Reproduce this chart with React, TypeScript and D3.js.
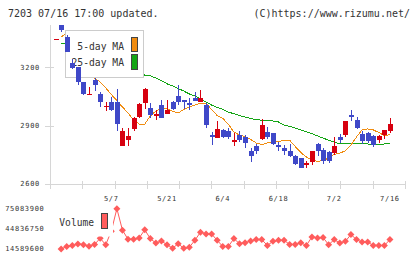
import React from "react";
import * as d3 from "d3";

// Trading days (2025) shown on the chart
const dates = [
  "4/18", "4/21", "4/22", "4/23", "4/24", "4/25", "4/28", "4/30", "5/1", "5/2",
  "5/7", "5/8", "5/9", "5/12", "5/13", "5/14", "5/15", "5/16", "5/19", "5/20",
  "5/21", "5/22", "5/23", "5/26", "5/27", "5/28", "5/29", "5/30", "6/2", "6/3",
  "6/4", "6/5", "6/6", "6/9", "6/10", "6/11", "6/12", "6/13", "6/16", "6/17",
  "6/18", "6/19", "6/20", "6/23", "6/24", "6/25", "6/26", "6/27", "6/30", "7/1",
  "7/2", "7/3", "7/4", "7/7", "7/8", "7/9", "7/10", "7/11", "7/14", "7/15",
  "7/16",
];

const opens = [
  3347, 3419, 3358, 3222, 3199, 3124, 3062, 3135, 3065, 2997,
  3022, 3022, 2795, 2824, 2883, 2943, 3016, 2991, 2951, 3005,
  2960, 3022, 3051, 3033, 3016, 3042, 3022, 3005, 2853, 2836,
  2879, 2874, 2814, 2853, 2840, 2771, 2797, 2833, 2867, 2862,
  2802, 2785, 2771, 2745, 2734, 2699, 2712, 2806, 2773, 2765,
  2759, 2842, 2853, 2953, 2931, 2857, 2862, 2848, 2828, 2853,
  2874,
];
const highs = [
  3347, 3420, 3366, 3243, 3201, 3124, 3101, 3147, 3075, 3024,
  3046, 3088, 2888, 2886, 2943, 3016, 3091, 3016, 2979, 3033,
  3033, 3028, 3110, 3033, 3042, 3073, 3085, 3016, 2866, 2922,
  2883, 2888, 2862, 2874, 2850, 2785, 2806, 2936, 2891, 2862,
  2816, 2799, 2806, 2751, 2736, 2720, 2770, 2811, 2785, 2771,
  2842, 2857, 2925, 2982, 2944, 2871, 2867, 2853, 2853, 2879,
  2939,
];
const lows = [
  3347, 3381, 3280, 3191, 3109, 3055, 3055, 3080, 2998, 2973,
  2975, 2874, 2795, 2795, 2874, 2939, 2987, 2939, 2931, 2938,
  2960, 2982, 3005, 2987, 2982, 3025, 3022, 2888, 2802, 2836,
  2836, 2833, 2794, 2816, 2785, 2713, 2754, 2828, 2833, 2802,
  2771, 2748, 2737, 2699, 2682, 2682, 2696, 2742, 2704, 2708,
  2748, 2811, 2840, 2925, 2883, 2807, 2811, 2790, 2811, 2833,
  2862,
];
const closes = [
  3347, 3393, 3281, 3194, 3122, 3063, 3065, 3109, 3024, 3000,
  2978, 2911, 2874, 2847, 2938, 3011, 3088, 2953, 2961, 2939,
  2982, 2987, 3022, 3022, 3005, 3028, 3042, 2905, 2843, 2883,
  2840, 2843, 2825, 2828, 2811, 2745, 2771, 2905, 2842, 2806,
  2790, 2771, 2742, 2704, 2682, 2706, 2768, 2771, 2720, 2720,
  2797, 2828, 2925, 2943, 2888, 2820, 2820, 2802, 2845, 2879,
  2908,
];

const volumes: (number | null)[] = [
  null, 14589600, 18420000, 19950000, 21940000, 21020000, 18880000, 21480000, 30670000, 21020000,
  41390000, 75083900, 42920000, 29140000, 29310000, 31130000, 43380000, 30210000, 23470000, 26540000,
  21020000, 15810000, 22550000, 15650000, 17350000, 27610000, 39860000, 37260000, 37100000, 27610000,
  18420000, 18420000, 30210000, 22550000, 24080000, 26540000, 28680000, 28680000, 19950000, 26080000,
  27610000, 27610000, 21480000, 21480000, 24080000, 19950000, 32660000, 31130000, 31740000, 21020000,
  28680000, 23470000, 26080000, 36340000, 28680000, 25000000, 25000000, 19950000, 19950000, 19950000,
  28680000,
];

const ma5: (number | null)[] = [
  null, 3356, 3376, 3345, 3300, 3267, 3211, 3145, 3124, 3094,
  3060, 3029, 2996, 2965, 2929, 2908, 2908, 2950, 2975, 2988,
  2988, 2973, 2965, 2983, 2996, 3006, 3016, 3016, 2982, 2952,
  2937, 2908, 2867, 2852, 2844, 2829, 2811, 2803, 2811, 2816,
  2818, 2824, 2825, 2793, 2762, 2739, 2723, 2717, 2720, 2734,
  2752, 2759, 2770, 2800, 2842, 2878, 2883, 2878, 2865, 2849,
  2853,
];
const ma25: (number | null)[] = [
  null, 3325, 3318, 3310, 3301, 3290, 3280, 3268, 3257, 3244,
  3232, 3220, 3205, 3192, 3180, 3170, 3160, 3156, 3145, 3132,
  3115, 3104, 3091, 3078, 3063, 3052, 3037, 3022, 3006, 2993,
  2984, 2969, 2962, 2952, 2944, 2937, 2931, 2928, 2927, 2924,
  2919, 2903, 2896, 2888, 2878, 2869, 2859, 2847, 2836, 2825,
  2816, 2806, 2806, 2806, 2806, 2806, 2806, 2802, 2802, 2806,
  2806,
];

const priceTicks = [2600, 2900, 3200];
const dateLabels = ["5/7", "5/21", "6/4", "6/18", "7/2", "7/16"];
const gridCount = 11;

const headerText = "7203 07/16 17:00 updated.";
const creditText = "(C)https://www.rizumu.net/";

const UP = "#d7000f";
const DOWN = "#3f48c8";
const MA5_COLOR = "#f08c10";
const MA25_COLOR = "#14a514";
const VOL_COLOR = "#ff5c5c";
const AXIS = "#d6d6d6";
const TEXT = "#333333";
const MONO = "'DejaVu Sans Mono', monospace";

export default function App() {
  const W = 420;
  const H = 259;

  const x = d3.scaleLinear().domain([-1, 62.7]).range([50, 405]);
  const y = d3.scaleLinear().domain([2600, 3420]).range([184, 24.5]);
  const grid = d3.scaleLinear().domain([0, gridCount]).range([50, 405]);

  const volVals = volumes.filter((v): v is number => v != null);
  const vMin = d3.min(volVals) as number;
  const vMax = d3.max(volVals) as number;
  const yv = d3.scaleLinear().domain([vMin, vMax]).range([249, 208.7]);
  const volTicks = [vMax, (vMin + vMax) / 2, vMin];

  const maLine = d3
    .line<number | null>()
    .defined((d) => d != null)
    .x((_, i) => x(i))
    .y((d) => y(d as number));

  const volLine = d3
    .line<number | null>()
    .defined((d) => d != null)
    .x((_, i) => x(i))
    .y((d) => yv(d as number));

  const bodyW = 5;

  return (
    <svg
      width={W}
      height={H}
      viewBox={`0 0 ${W} ${H}`}
      style={{ position: "absolute", left: 0, top: 0, background: "#fff" }}
    >
      <rect x={0} y={0} width={W} height={H} fill="#fff" />

      {/* header */}
      <text x={8} y={16.5} fontFamily={MONO} fontSize={10} fill={TEXT}>
        {headerText}
      </text>
      <text x={410} y={16.5} fontFamily={MONO} fontSize={10} fill={TEXT} textAnchor="end">
        {creditText}
      </text>

      {/* price axes */}
      <g shapeRendering="crispEdges" stroke={AXIS} strokeWidth={1}>
        <line x1={50.5} x2={50.5} y1={y(3420)} y2={188.5} />
        <line x1={50} x2={405} y1={Math.round(y(2600)) + 0.5} y2={Math.round(y(2600)) + 0.5} />
        {d3.range(gridCount + 1).map((k) => (
          <line
            key={`g${k}`}
            x1={Math.round(grid(k)) + 0.5}
            x2={Math.round(grid(k)) + 0.5}
            y1={180.5}
            y2={188.5}
          />
        ))}
        {priceTicks.map((p) => (
          <line
            key={`t${p}`}
            x1={45}
            x2={54}
            y1={Math.round(y(p)) + 0.5}
            y2={Math.round(y(p)) + 0.5}
          />
        ))}
      </g>
      {priceTicks.map((p) => (
        <text
          key={`pl${p}`}
          x={40}
          y={y(p)}
          dy="0.35em"
          textAnchor="end"
          fontFamily={MONO}
          fontSize={7}
          letterSpacing={0.7}
          fill={TEXT}
        >
          {p}
        </text>
      ))}
      {dateLabels.map((d) => {
        const i = dates.indexOf(d);
        return (
          <text
            key={`d${d}`}
            x={x(i)}
            y={198.5}
            dy="0.35em"
            textAnchor="middle"
            fontFamily={MONO}
            fontSize={7}
            letterSpacing={0.7}
            fill={TEXT}
          >
            {d}
          </text>
        );
      })}

      {/* moving averages */}
      <path d={maLine(ma25) ?? ""} fill="none" stroke={MA25_COLOR} strokeWidth={1} shapeRendering="crispEdges" />
      <path d={maLine(ma5) ?? ""} fill="none" stroke={MA5_COLOR} strokeWidth={1} shapeRendering="crispEdges" />

      {/* MA legend */}
      <g shapeRendering="crispEdges">
        <rect x={65.5} y={30.5} width={78} height={47} fill="#fff" stroke="#cccccc" />
        <rect x={131.5} y={37.5} width={6} height={14} fill={MA5_COLOR} stroke="#444" />
        <rect x={131.5} y={54.5} width={6} height={14.5} fill={MA25_COLOR} stroke="#444" />
      </g>
      <text x={124} y={49.5} textAnchor="end" fontFamily={MONO} fontSize={9.7} fill={TEXT}>
        5-day MA
      </text>
      <text x={124} y={66} textAnchor="end" fontFamily={MONO} fontSize={9.7} fill={TEXT}>
        25-day MA
      </text>

      {/* candlesticks */}
      <g shapeRendering="crispEdges">
        {dates.map((d, i) => {
          const o = opens[i];
          const c = closes[i];
          const up = c >= o;
          const color = up ? UP : DOWN;
          const cx = Math.round(x(i));
          const top = y(Math.max(o, c));
          const bot = y(Math.min(o, c));
          const h = Math.max(1, bot - top);
          return (
            <g key={`c${d}`}>
              {highs[i] !== lows[i] && (
                <line x1={cx + 0.5} x2={cx + 0.5} y1={y(highs[i])} y2={y(lows[i])} stroke={color} strokeWidth={1} />
              )}
              <rect x={cx - 2} y={top} width={bodyW} height={h} fill={color} />
            </g>
          );
        })}
      </g>

      {/* volume */}
      <path d={volLine(volumes) ?? ""} fill="none" stroke={VOL_COLOR} strokeWidth={1} />
      {volumes.map((v, i) =>
        v == null ? null : (
          <path
            key={`v${i}`}
            d={`M${x(i)},${yv(v) - 3.5}L${x(i) + 3.5},${yv(v)}L${x(i)},${yv(v) + 3.5}L${x(i) - 3.5},${yv(v)}Z`}
            fill={VOL_COLOR}
          />
        )
      )}
      <rect x={56} y={211} width={57} height={25.5} fill="#fff" />
      <text x={94} y={225.5} textAnchor="end" fontFamily={MONO} fontSize={9.6} fill={TEXT}>
        Volume
      </text>
      <rect x={101.5} y={213.5} width={6} height={14.5} fill={VOL_COLOR} stroke="#444" shapeRendering="crispEdges" />
      {volTicks.map((v) => (
        <text
          key={`vt${v}`}
          x={44.5}
          y={yv(v)}
          dy="0.35em"
          textAnchor="end"
          fontFamily={MONO}
          fontSize={7}
          letterSpacing={0.7}
          fill={TEXT}
        >
          {Math.round(v)}
        </text>
      ))}
    </svg>
  );
}
